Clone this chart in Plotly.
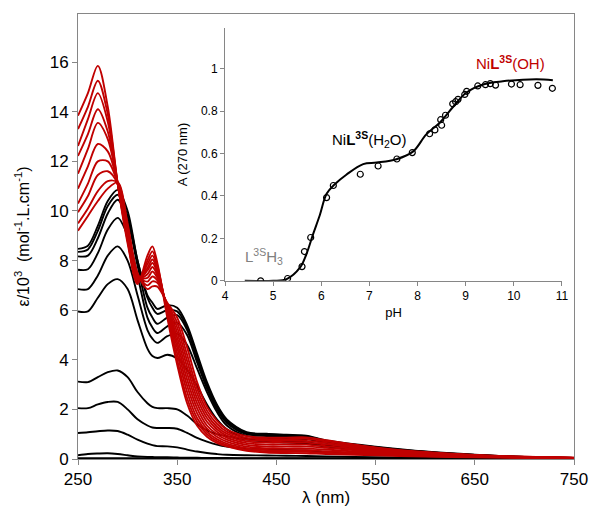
import plotly.graph_objects as go

# ---------------- data: spectra ----------------
wavelength = [250, 260, 270, 280, 290, 300, 310, 320, 325, 330, 340, 350, 360, 370,
              380, 390, 400, 420, 440, 460, 480, 500, 550, 600, 650, 700, 750]

# black spectra (low pH -> NiL(H2O))
eps_b1 = [0.03, 0.03, 0.03, 0.03, 0.03, 0.03, 0.03, 0.02, 0.02, 0.02, 0.02, 0.02, 0.02, 0.02,
          0.02, 0.02, 0.02, 0.02, 0.02, 0.02, 0.02, 0.01, 0.01, 0.01, 0.01, 0.01, 0.01]
eps_b2 = [0.15, 0.2, 0.22, 0.23, 0.2, 0.15, 0.1, 0.08, 0.08, 0.07, 0.07, 0.06, 0.05, 0.05,
          0.04, 0.04, 0.04, 0.03, 0.03, 0.03, 0.03, 0.03, 0.02, 0.02, 0.01, 0.01, 0.01]
eps_b3 = [1.05, 1.08, 1.12, 1.15, 1.13, 0.98, 0.78, 0.62, 0.56, 0.52, 0.51, 0.47, 0.38, 0.3,
          0.24, 0.2, 0.17, 0.15, 0.14, 0.13, 0.12, 0.1, 0.07, 0.05, 0.03, 0.02, 0.01]
eps_b4 = [2.05, 2.05, 2.2, 2.3, 2.3, 2.0, 1.6, 1.35, 1.27, 1.25, 1.25, 1.22, 1.05, 0.85,
          0.7, 0.58, 0.5, 0.42, 0.38, 0.36, 0.34, 0.28, 0.19, 0.11, 0.06, 0.03, 0.02]
eps_b5 = [3.12, 3.1, 3.3, 3.5, 3.57, 3.3, 2.7, 2.25, 2.1, 2.05, 2.05, 2.0, 1.75, 1.4,
          1.15, 1.0, 0.92, 0.78, 0.7, 0.66, 0.62, 0.5, 0.33, 0.19, 0.1, 0.05, 0.03]
eps_b6 = [5.95, 5.95, 6.5, 7.05, 7.25, 6.85, 5.6, 4.45, 4.15, 4.07, 4.2, 4.05, 3.6, 2.95,
          2.2, 1.6, 1.2, 0.82, 0.73, 0.7, 0.68, 0.56, 0.38, 0.22, 0.12, 0.06, 0.03]
eps_b7 = [6.85, 6.85, 7.4, 8.2, 8.57, 8.0, 6.6, 5.2, 4.85, 4.68, 4.95, 5.05, 4.6, 3.65,
          2.7, 1.9, 1.35, 0.93, 0.85, 0.82, 0.8, 0.65, 0.43, 0.25, 0.14, 0.07, 0.04]
eps_b8 = [7.63, 7.65, 8.3, 9.25, 9.72, 9.0, 7.4, 5.7, 5.3, 5.08, 5.35, 5.5, 5.0, 3.9,
          2.85, 2.0, 1.45, 1.0, 0.93, 0.9, 0.87, 0.7, 0.46, 0.27, 0.15, 0.07, 0.04]
eps_b9 = [8.17, 8.2, 8.9, 9.9, 10.45, 9.6, 7.8, 6.1, 5.7, 5.45, 5.7, 5.8, 5.2, 4.05,
          2.95, 2.1, 1.5, 1.02, 0.96, 0.93, 0.9, 0.72, 0.47, 0.28, 0.16, 0.08, 0.04]
eps_b10 = [8.35, 8.45, 9.2, 10.2, 10.65, 9.8, 8.0, 6.5, 6.1, 5.85, 6.0, 5.95, 5.3, 4.15,
           3.0, 2.15, 1.55, 1.05, 0.99, 0.95, 0.92, 0.73, 0.48, 0.29, 0.16, 0.08, 0.04]
eps_b11 = [8.47, 8.6, 9.4, 10.4, 10.85, 10.0, 8.0, 6.6, 6.3, 6.05, 6.2, 6.1, 5.4, 4.25,
           3.1, 2.2, 1.6, 1.08, 1.02, 0.98, 0.94, 0.75, 0.5, 0.3, 0.17, 0.08, 0.04]

# red spectra (high pH -> NiL(OH))
eps_r1 = [9.2, 9.8, 10.4, 10.9, 11.15, 9.5, 7.5, 6.85, 6.96, 6.95, 6.3, 5.7, 4.5, 3.1,
          2.1, 1.55, 1.2, 0.92, 0.86, 0.86, 0.87, 0.76, 0.47, 0.28, 0.16, 0.09, 0.05]
eps_r2 = [9.5, 10.1, 10.8, 11.2, 11.15, 9.4, 7.45, 7.0, 7.16, 7.1, 6.25, 5.5, 4.2, 2.85,
          1.95, 1.42, 1.1, 0.85, 0.8, 0.8, 0.81, 0.71, 0.44, 0.26, 0.15, 0.09, 0.05]
eps_r3 = [9.95, 10.6, 11.45, 11.6, 11.1, 9.3, 7.4, 7.15, 7.36, 7.2, 6.2, 5.3, 3.95, 2.65,
          1.8, 1.3, 1.02, 0.78, 0.73, 0.73, 0.73, 0.65, 0.4, 0.24, 0.14, 0.08, 0.04]
eps_r4 = [10.3, 11.1, 12.0, 12.0, 11.1, 9.2, 7.35, 7.3, 7.56, 7.3, 6.15, 5.1, 3.7, 2.45,
          1.65, 1.2, 0.94, 0.71, 0.66, 0.66, 0.66, 0.59, 0.37, 0.22, 0.13, 0.08, 0.04]
eps_r5 = [10.9, 11.8, 12.7, 12.4, 11.1, 9.1, 7.3, 7.45, 7.74, 7.4, 6.1, 4.9, 3.45, 2.25,
          1.5, 1.1, 0.86, 0.64, 0.58, 0.58, 0.58, 0.52, 0.33, 0.2, 0.12, 0.07, 0.04]
eps_r6 = [11.5, 12.5, 13.55, 12.9, 11.1, 9.0, 7.25, 7.6, 7.9, 7.5, 6.05, 4.7, 3.2, 2.05,
          1.35, 1.0, 0.78, 0.57, 0.5, 0.5, 0.5, 0.45, 0.29, 0.18, 0.11, 0.07, 0.04]
eps_r7 = [12.22, 13.1, 14.1, 13.2, 11.1, 8.9, 7.2, 7.7, 8.04, 7.6, 6.0, 4.5, 2.95, 1.85,
          1.22, 0.9, 0.7, 0.5, 0.43, 0.42, 0.42, 0.38, 0.25, 0.16, 0.1, 0.06, 0.04]
eps_r8 = [12.62, 13.7, 14.75, 13.6, 11.1, 8.85, 7.15, 7.85, 8.2, 7.7, 5.95, 4.25, 2.7, 1.65,
          1.1, 0.8, 0.62, 0.44, 0.36, 0.35, 0.35, 0.31, 0.21, 0.14, 0.09, 0.06, 0.03]
eps_r9 = [13.3, 14.2, 15.25, 13.9, 11.1, 8.8, 7.1, 8.0, 8.37, 7.8, 5.85, 4.0, 2.45, 1.5,
          1.0, 0.72, 0.56, 0.38, 0.3, 0.29, 0.29, 0.25, 0.18, 0.12, 0.08, 0.05, 0.03]
eps_r10 = [13.84, 14.75, 15.85, 14.2, 11.1, 8.7, 7.05, 8.2, 8.57, 7.9, 5.7, 3.8, 2.25, 1.35,
           0.9, 0.65, 0.51, 0.33, 0.26, 0.24, 0.23, 0.2, 0.15, 0.1, 0.07, 0.05, 0.03]

black_spectra = [eps_b1, eps_b2, eps_b3, eps_b4, eps_b5, eps_b6, eps_b7, eps_b8, eps_b9, eps_b10, eps_b11]
red_spectra = [eps_r1, eps_r2, eps_r3, eps_r4, eps_r5, eps_r6, eps_r7, eps_r8, eps_r9, eps_r10]

# ---------------- data: inset titration ----------------
ph_points = [4.74, 5.30, 5.60, 5.65, 5.78, 6.11, 6.25, 6.81, 7.18, 7.57, 7.89, 8.25, 8.36,
             8.48, 8.50, 8.58, 8.73, 8.79, 8.84, 8.98, 9.02, 9.25, 9.41, 9.51, 9.62, 9.95,
             10.13, 10.50, 10.80]
a_points = [0.0, 0.011, 0.067, 0.138, 0.204, 0.392, 0.449, 0.502, 0.541, 0.574, 0.604, 0.693,
            0.711, 0.759, 0.733, 0.78, 0.834, 0.844, 0.855, 0.878, 0.893, 0.918, 0.924, 0.929,
            0.922, 0.927, 0.924, 0.921, 0.907]
ph_fit = [4.41, 5.0, 5.28, 5.56, 5.69, 5.83, 5.97, 6.11, 6.28, 6.52, 6.87, 7.15, 7.56, 7.91,
          8.18, 8.46, 8.74, 9.01, 9.36, 9.77, 10.47, 10.81]
a_fit = [0.0, 0.0, 0.008, 0.063, 0.125, 0.22, 0.31, 0.41, 0.455, 0.50, 0.55, 0.557, 0.573,
         0.61, 0.69, 0.745, 0.82, 0.886, 0.925, 0.94, 0.95, 0.945]

main_x_ticks = [250, 350, 450, 550, 650, 750]
main_y_ticks = [0, 2, 4, 6, 8, 10, 12, 14, 16]
inset_y_ticks = [0, 0.2, 0.4, 0.6, 0.8, 1]
inset_y_labels = ["0", "0.2", "0.4", "0.6", "0.8", "1"]

BLACK = "#000000"
RED = "#C00000"
GREY = "#868686"
FONT = "Liberation Sans, Arial, sans-serif"

fig = go.Figure()

for spec in black_spectra:
    fig.add_trace(go.Scatter(x=wavelength, y=spec, mode="lines",
                             line=dict(color=BLACK, width=1.9, shape="spline", smoothing=0.9),
                             showlegend=False, hoverinfo="skip"))
for spec in red_spectra:
    fig.add_trace(go.Scatter(x=wavelength, y=spec, mode="lines",
                             line=dict(color=RED, width=1.9, shape="spline", smoothing=0.9),
                             showlegend=False, hoverinfo="skip"))

fig.add_trace(go.Scatter(x=ph_fit, y=a_fit, mode="lines", xaxis="x2", yaxis="y2",
                         line=dict(color=BLACK, width=2, shape="spline", smoothing=1.0),
                         showlegend=False, hoverinfo="skip"))
fig.add_trace(go.Scatter(x=ph_points, y=a_points, mode="markers", xaxis="x2", yaxis="y2",
                         marker=dict(symbol="circle-open", size=6, color=BLACK,
                                     line=dict(width=1.2, color=BLACK)),
                         showlegend=False, hoverinfo="skip"))

fig.update_layout(
    width=592, height=507,
    margin=dict(l=78, r=18, t=14, b=48, autoexpand=False),
    paper_bgcolor="white", plot_bgcolor="white",
    font=dict(family=FONT, color=BLACK),
    hovermode=False,
    xaxis=dict(range=[250, 750], tickvals=main_x_ticks, showline=True, linecolor=GREY,
               linewidth=1, mirror=True, ticks="outside", ticklen=5, tickcolor=GREY,
               showgrid=False, zeroline=False, tickfont=dict(size=17, color=BLACK),
               automargin=False,
               title=dict(text="λ (nm)", font=dict(size=17, color=BLACK), standoff=2)),
    yaxis=dict(range=[0, 17.94], tickvals=main_y_ticks, showline=True, linecolor=GREY,
               linewidth=1, mirror=True, ticks="outside", ticklen=5, tickcolor=GREY,
               showgrid=False, zeroline=False, tickfont=dict(size=17, color=BLACK),
               automargin=False,
               title=dict(text="ε/10<sup>3</sup>  (mol<sup>-1</sup>.L.cm<sup>-1</sup>)",
                          font=dict(size=16, color=BLACK), standoff=16)),
    xaxis2=dict(domain=[0.2964, 0.9758], anchor="y2", range=[4, 11], dtick=1,
                showline=True, linecolor=GREY, linewidth=1, ticks="outside", ticklen=4,
                tickcolor=GREY, showgrid=False, zeroline=False, automargin=False,
                tickfont=dict(size=12, color=BLACK),
                title=dict(text="pH", font=dict(size=13, color=BLACK), standoff=5)),
    yaxis2=dict(domain=[0.4004, 0.968], anchor="x2", range=[0, 1.19],
                tickvals=inset_y_ticks, ticktext=inset_y_labels,
                showline=True, linecolor=GREY, linewidth=1, ticks="outside", ticklen=4,
                tickcolor=GREY, showgrid=False, zeroline=False, automargin=False,
                tickfont=dict(size=12, color=BLACK),
                title=dict(text="A (270 nm)", font=dict(size=13, color=BLACK), standoff=10)),
)

fig.add_annotation(x=4.8, y=0.115, xref="x2", yref="y2",
                   text="L<sup>3S</sup>H<sub>3</sub>", showarrow=False,
                   font=dict(size=15, color="#808080", family=FONT))
fig.add_annotation(x=7.0, y=0.665, xref="x2", yref="y2",
                   text="Ni<b>L</b><sup><b>3S</b></sup>(H<sub>2</sub>O)", showarrow=False,
                   font=dict(size=15, color=BLACK, family=FONT))
fig.add_annotation(x=9.92, y=1.03, xref="x2", yref="y2",
                   text="Ni<b>L</b><sup><b>3S</b></sup>(OH)", showarrow=False,
                   font=dict(size=15, color=RED, family=FONT))

fig.write_html("out.html", config={"displayModeBar": False, "staticPlot": True},
               post_script="document.body.style.margin='0';document.body.style.overflow='hidden';")
